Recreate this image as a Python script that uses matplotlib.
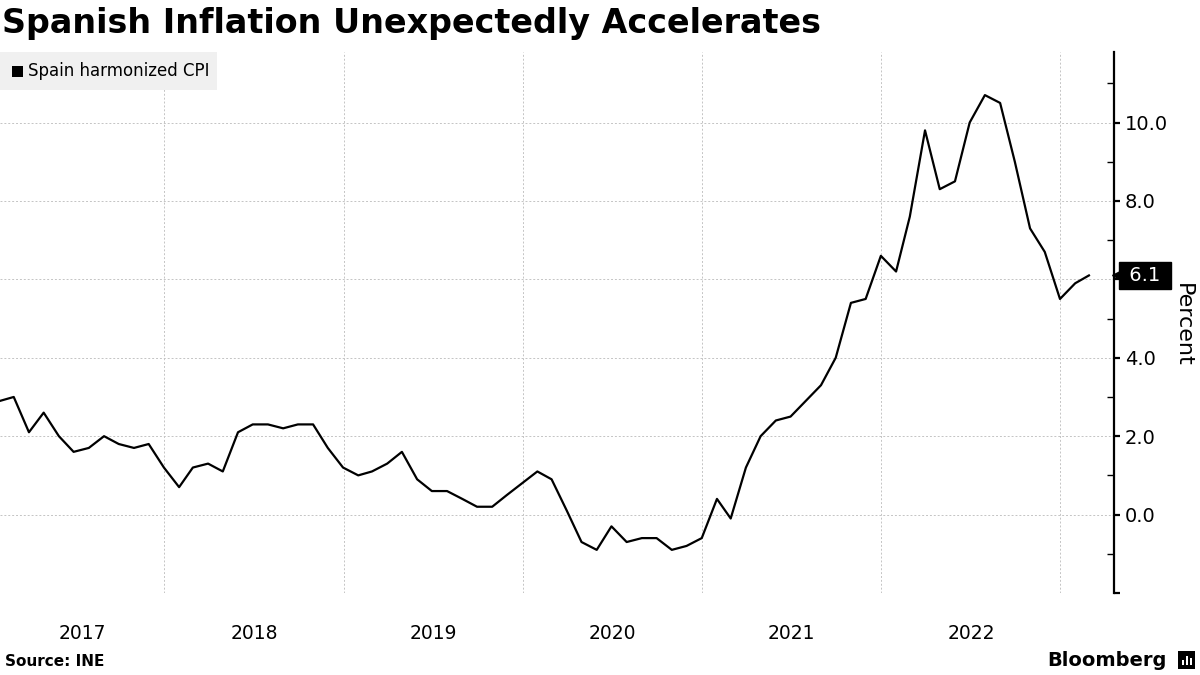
import matplotlib
matplotlib.use("Agg")
import matplotlib.pyplot as plt
import matplotlib.ticker as mticker
import matplotlib.transforms as mtrans
import pandas as pd

# Spain harmonized CPI, % YoY, monthly Jan 2017 - Feb 2023
cpi_2017 = [2.9, 3.0, 2.1, 2.6, 2.0, 1.6, 1.7, 2.0, 1.8, 1.7, 1.8, 1.2]
cpi_2018 = [0.7, 1.2, 1.3, 1.1, 2.1, 2.3, 2.3, 2.2, 2.3, 2.3, 1.7, 1.2]
cpi_2019 = [1.0, 1.1, 1.3, 1.6, 0.9, 0.6, 0.6, 0.4, 0.2, 0.2, 0.5, 0.8]
cpi_2020 = [1.1, 0.9, 0.1, -0.7, -0.9, -0.3, -0.7, -0.6, -0.6, -0.9, -0.8, -0.6]
cpi_2021 = [0.4, -0.1, 1.2, 2.0, 2.4, 2.5, 2.9, 3.3, 4.0, 5.4, 5.5, 6.6]
cpi_2022 = [6.2, 7.6, 9.8, 8.3, 8.5, 10.0, 10.7, 10.5, 9.0, 7.3, 6.7, 5.5]
cpi_2023 = [5.9, 6.1]

values = cpi_2017 + cpi_2018 + cpi_2019 + cpi_2020 + cpi_2021 + cpi_2022 + cpi_2023
dates = pd.date_range("2017-01-31", periods=len(values), freq="ME")

year_labels = ["2017", "2018", "2019", "2020", "2021", "2022"]
y_ticks = [-2, 0, 2, 4, 6, 8, 10]
y_tick_labels = ["", "0.0", "2.0", "4.0", "6.0", "8.0", "10.0"]

GRID = "#c4c4c4"

fig = plt.figure(figsize=(12, 6.75), dpi=100)
ax = fig.add_axes([0.0, 0.1215, 0.9283, 0.8015])

ax.plot(dates, values, color="black", lw=1.6, zorder=3)

x0 = pd.Timestamp("2017-01-31")
x1 = pd.Timestamp("2023-04-20")
ax.set_xlim(x0, x1)
ax.set_ylim(-2, 11.8)

# x axis: gridlines at year boundaries, labels centred in each year
year_starts = [pd.Timestamp(f"{y}-01-01") for y in range(2018, 2024)]
ax.set_xticks(year_starts)
ax.xaxis.set_major_formatter(mticker.NullFormatter())
centres = []
for y in year_labels:
    lo = max(pd.Timestamp(f"{y}-01-01"), x0)
    hi = pd.Timestamp(f"{int(y) + 1}-01-01")
    centres.append(lo + (hi - lo) / 2)
ax.set_xticks(centres, minor=True)
ax.set_xticklabels(year_labels, minor=True)
ax.tick_params(axis="x", which="both", length=0)
ax.tick_params(axis="x", which="minor", labelsize=13.5, pad=22)

# y axis on the right
ax.yaxis.tick_right()
ax.set_yticks(y_ticks)
ax.set_yticklabels(y_tick_labels)
ax.yaxis.set_minor_locator(mticker.FixedLocator([-1, 1, 3, 5, 7, 9, 11]))
ax.tick_params(axis="y", which="major", direction="out", length=4, width=1.6,
               labelsize=14, pad=4)
ax.tick_params(axis="y", which="minor", direction="in", length=5, width=1)

ax.grid(True, which="major", axis="both", color=GRID, ls=(0, (2, 2)), lw=0.7)
for s in ["left", "top", "bottom"]:
    ax.spines[s].set_visible(False)
ax.spines["right"].set_linewidth(1.6)

# last value tag: small arrow on the spine plus black box
tr = ax.get_yaxis_transform()
ax.plot([1.0], [values[-1]], marker="<", ms=10, color="black", clip_on=False,
        transform=mtrans.offset_copy(tr, fig=fig, x=5, y=0, units="dots"),
        zorder=6)
ax.text(1.0, values[-1], f" {values[-1]:.1f} ", ha="left", va="center",
        color="white", fontsize=14, zorder=6,
        transform=mtrans.offset_copy(tr, fig=fig, x=9, y=0, units="dots"),
        bbox=dict(boxstyle="square,pad=0.22", fc="black", ec="black"))

fig.text(1183 / 1200, 1 - 325 / 675, "Percent", rotation=-90, fontsize=16,
         va="center", ha="center")

# legend box
fig.patches.append(plt.Rectangle((0.0, 1 - 90 / 675), 217 / 1200, 38 / 675,
                                 transform=fig.transFigure, fc="#f0f0f0",
                                 ec="none", zorder=4))
fig.patches.append(plt.Rectangle((12 / 1200, 1 - 77 / 675), 11 / 1200, 11 / 675,
                                 transform=fig.transFigure, fc="black",
                                 ec="none", zorder=5))
fig.text(28 / 1200, 1 - 71 / 675, "Spain harmonized CPI", fontsize=12,
         va="center", ha="left", zorder=5)

fig.text(2 / 1200, 1 - 24 / 675, "Spanish Inflation Unexpectedly Accelerates",
         fontsize=24, fontweight="bold", va="center", ha="left")
fig.text(5 / 1200, 1 - 662 / 675, "Source: INE", fontsize=11, fontweight="bold",
         va="center", ha="left")
fig.text(1167 / 1200, 1 - 660 / 675, "Bloomberg", fontsize=14, fontweight="bold",
         va="center", ha="right")
fig.patches.append(plt.Rectangle((1178 / 1200, 1 - 669 / 675), 17 / 1200,
                                 18 / 675, transform=fig.transFigure,
                                 fc="black", ec="none"))
for i, h in enumerate([5, 9, 7]):
    fig.patches.append(plt.Rectangle(((1182 + 4 * i) / 1200, 1 - 665 / 675),
                                     2 / 1200, h / 675, transform=fig.transFigure,
                                     fc="white", ec="none", zorder=3))

fig.savefig("out.png", dpi=100)
